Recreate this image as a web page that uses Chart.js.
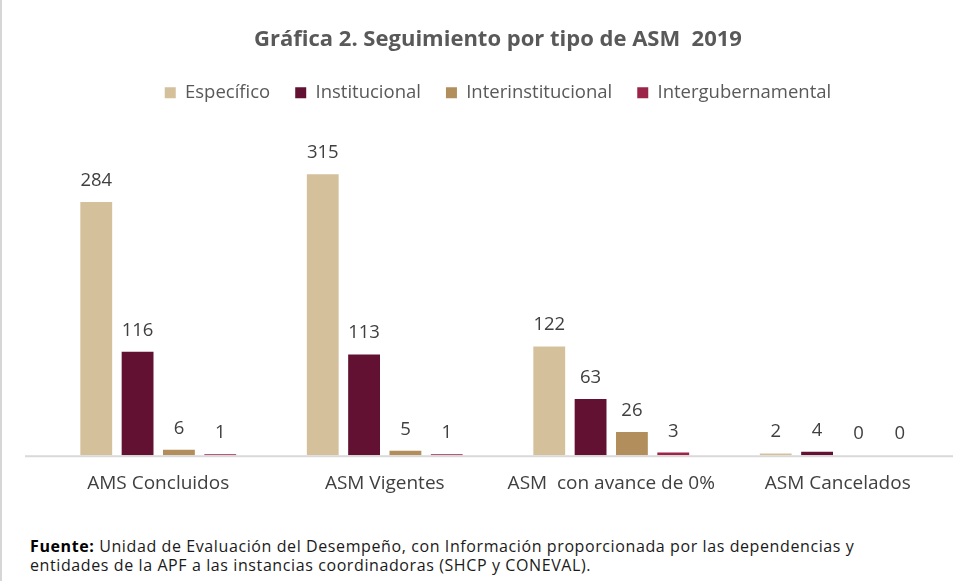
<!DOCTYPE html>
<html lang="es">
<head>
<meta charset="utf-8">
<title>Gráfica 2. Seguimiento por tipo de ASM 2019</title>
<script src="https://cdn.jsdelivr.net/npm/chart.js@4/dist/chart.umd.min.js"></script>
<style>
  html, body { margin: 0; padding: 0; background: #fff; }
  body { width: 953px; height: 581px; position: relative; overflow: hidden; font-family: 'Open Sans', sans-serif; }
  #frame { position: absolute; left: 0; top: 0; width: 2px; height: 581px; background: #d6d6d6; }
  #wrap { position: absolute; left: 0; top: 0; width: 953px; height: 512px; }
  #nota { position: absolute; left: 30px; top: 537px; width: 920px; font-size: 16px; line-height: 19px; color: #1a1a1a; letter-spacing: 0.6px; }
  #nota b { color: #000; }
</style>
</head>
<body>
<div id="frame"></div>
<div id="wrap"><canvas id="asmChart"></canvas></div>
<div id="nota"><b>Fuente:</b> Unidad de Evaluación del Desempeño, con Información proporcionada por las dependencias y<br>entidades de la APF a las instancias coordinadoras (SHCP y CONEVAL).</div>
<script>
// categorias y series
const categorias = ['AMS Concluidos', 'ASM Vigentes', 'ASM  con avance de 0%', 'ASM Cancelados'];
const especifico = [284, 315, 122, 2];
const institucional = [116, 113, 63, 4];
const interinstitucional = [6, 5, 26, 0];
const intergubernamental = [1, 1, 3, 0];

const colores = ['#D4C19C', '#621132', '#B38E5D', '#9D2449'];

// etiquetas de valor sobre cada barra + linea base
const valorPlugin = {
    id: 'valorPlugin',
    beforeDatasetsDraw(chart) {
        const ctx = chart.ctx;
        const y0 = chart.scales.y.getPixelForValue(0);
        ctx.save();
        ctx.strokeStyle = '#d9d9d9';
        ctx.lineWidth = 2;
        ctx.beginPath();
        ctx.moveTo(25, y0 + 1);
        ctx.lineTo(953, y0 + 1);
        ctx.stroke();
        ctx.restore();
    },
    afterDatasetsDraw(chart) {
        const ctx = chart.ctx;
        ctx.save();
        ctx.font = '18.5px "Open Sans"';
        ctx.fillStyle = '#404040';
        ctx.textAlign = 'center';
        ctx.textBaseline = 'alphabetic';
        chart.data.datasets.forEach((ds, i) => {
            chart.getDatasetMeta(i).data.forEach((bar, j) => {
                ctx.fillText(ds.data[j], bar.x, bar.y - 16);
            });
        });
        ctx.restore();
    }
};

new Chart(document.getElementById('asmChart'), {
    type: 'bar',
    data: {
        labels: categorias,
        datasets: [
            { label: 'Específico', data: especifico, backgroundColor: colores[0] },
            { label: 'Institucional', data: institucional, backgroundColor: colores[1] },
            { label: 'Interinstitucional', data: interinstitucional, backgroundColor: colores[2] },
            { label: 'Intergubernamental', data: intergubernamental, backgroundColor: colores[3] }
        ]
    },
    options: {
        responsive: true,
        maintainAspectRatio: false,
        animation: false,
        layout: { padding: { left: 45, right: 2, top: 0, bottom: 0 } },
        datasets: { bar: { categoryPercentage: 0.73, barPercentage: 0.77 } },
        plugins: {
            title: {
                display: true,
                text: 'Gráfica 2. Seguimiento por tipo de ASM  2019',
                color: '#595959',
                font: { family: 'Open Sans', size: 22, weight: 'bold' },
                padding: { top: 27, bottom: 5 }
            },
            legend: {
                position: 'top',
                labels: {
                    color: '#595959',
                    font: { family: 'Open Sans', size: 18.5 },
                    boxWidth: 11,
                    boxHeight: 11,
                    padding: 25
                }
            },
            tooltip: { enabled: false }
        },
        scales: {
            x: {
                grid: { display: false, drawTicks: false },
                border: { display: false },
                ticks: {
                    color: '#404040',
                    font: { family: 'Open Sans', size: 19 },
                    padding: 17,
                    maxRotation: 0
                }
            },
            y: {
                display: false,
                min: 0,
                max: 385
            }
        }
    },
    plugins: [valorPlugin]
});
</script>
</body>
</html>
